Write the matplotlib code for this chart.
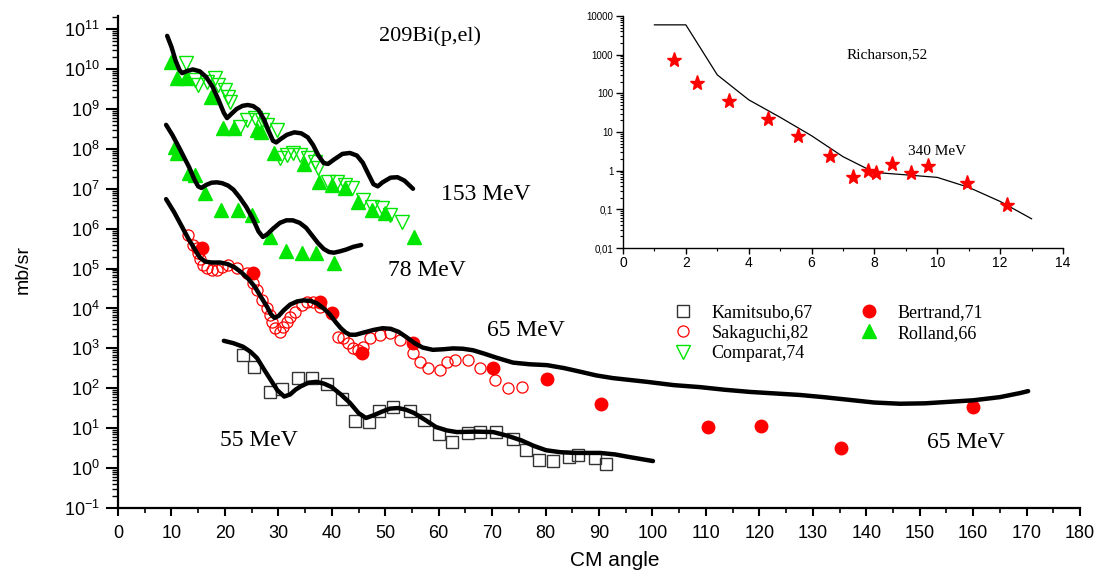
import matplotlib
matplotlib.use("Agg")
import matplotlib.pyplot as plt
from matplotlib.ticker import LogLocator, MultipleLocator, NullFormatter, FixedLocator, FixedFormatter

# ---- main plot data (CM angle in deg, cross section mb/sr) ----
# 153 MeV
curve153_x = [9.2, 10.0, 10.8, 11.5, 12.0, 12.8, 14.0, 15.3, 16.5, 17.7, 18.8, 19.8, 20.4, 21.2, 22.2,
              23.3, 24.3, 25.3, 26.3, 27.3, 28.3, 29.0, 29.6, 30.4, 31.6, 33.0, 34.3, 35.5, 36.5, 37.5,
              38.5, 39.3, 40.5, 42.0, 43.4, 44.7, 45.8, 46.8, 47.8, 48.6, 49.5, 51.0, 52.3, 53.6, 55.2]
curve153_y = [6.8e10, 3.6e10, 1.6e10, 9.5e9, 7.9e9, 8.8e9, 9.8e9, 8.8e9, 6.3e9, 3.6e9, 1.7e9, 8.0e8,
              5.9e8, 7.5e8, 1.0e9, 1.2e9, 1.26e9, 1.18e9, 9.5e8, 5.5e8, 2.6e8, 1.6e8, 1.45e8, 1.75e8,
              2.25e8, 2.6e8, 2.45e8, 1.95e8, 1.25e8, 6.8e7, 4.4e7, 4.2e7, 5.5e7, 7.5e7, 7.9e7, 6.8e7,
              4.5e7, 2.4e7, 1.3e7, 1.15e7, 1.45e7, 1.9e7, 1.95e7, 1.6e7, 1.0e7]
comparat_x = [12.7, 14.4, 15.0, 16.6, 18.2, 18.7, 20.0, 20.6, 21.0, 22.8, 24.1, 25.6, 26.9, 27.9, 29.8,
              30.3, 31.6, 32.7, 34.1, 35.6, 36.9, 37.4, 39.3, 41.0, 42.5, 43.8, 45.8, 47.5, 49.4, 50.9, 53.1]
comparat_y = [1.4e10, 5.4e9, 4.0e9, 4.8e9, 6.0e9, 4.0e9, 3.0e9, 2.0e9, 1.5e9, 3.5e8, 5.2e8, 5.9e8, 5.2e8,
              4.0e8, 3.0e8, 5.9e7, 7.1e7, 7.9e7, 7.1e7, 5.9e7, 4.7e7, 3.3e7, 1.5e7, 1.5e7, 1.26e7, 1.05e7,
              5.2e6, 3.5e6, 3.3e6, 2.2e6, 1.5e6]
rolland153_x = [9.9, 11.0, 12.7, 17.4, 19.7, 21.7, 26.0, 26.8, 29.2, 34.8, 37.6, 40.0, 42.5, 44.9, 47.6, 49.9, 55.3]
rolland153_y = [1.5e10, 5.9e9, 5.9e9, 2.0e9, 3.3e8, 3.3e8, 3.0e8, 2.6e8, 8.1e7, 4.2e7, 1.5e7, 1.26e7, 1.05e7,
                4.7e6, 3.0e6, 2.5e6, 6.2e5]

# 78 MeV
curve78_x = [9.0, 10.2, 11.4, 12.4, 13.3, 14.3, 15.0, 15.6, 16.5, 17.5, 18.5, 19.5, 20.6, 21.6, 22.8,
             24.0, 25.2, 26.3, 27.1, 27.9, 29.0, 30.3, 31.5, 32.7, 34.0, 35.2, 36.3, 37.4, 38.5, 39.5,
             40.4, 41.5, 42.7, 44.0, 45.5]
curve78_y = [4.0e8, 2.2e8, 1.1e8, 6.0e7, 3.5e7, 1.7e7, 1.15e7, 1.05e7, 1.25e7, 1.42e7, 1.45e7, 1.38e7,
             1.2e7, 9.5e6, 6.0e6, 3.5e6, 1.8e6, 8.5e5, 6.2e5, 7.2e5, 1.0e6, 1.4e6, 1.62e6, 1.62e6, 1.4e6,
             1.05e6, 6.8e5, 4.4e5, 3.1e5, 2.6e5, 2.5e5, 2.7e5, 3.0e5, 3.5e5, 3.9e5]
rolland78_x = [10.7, 11.0, 13.3, 14.4, 16.3, 19.3, 22.4, 25.1, 28.4, 31.4, 34.4, 37.1, 40.5]
rolland78_y = [1.1e8, 7.9e7, 2.5e7, 2.2e7, 7.8e6, 3.0e6, 3.0e6, 2.2e6, 6.2e5, 2.8e5, 2.5e5, 2.5e5, 1.4e5]

# 65 MeV
curve65_x = [9.0, 10.5, 12.0, 13.2, 14.4, 15.3, 16.3, 17.5, 19.1, 20.5, 21.8, 23.0, 24.4, 25.6, 26.8,
             27.9, 28.6, 29.3, 30.1, 31.0, 32.2, 33.5, 34.7, 36.0, 37.2, 38.5, 39.7, 40.7, 41.7, 42.6,
             43.4, 44.5, 46.0, 47.8, 49.5, 51.0, 52.5, 54.0, 55.5, 57.0, 58.9, 60.8, 62.7, 64.5, 66.4,
             68.5, 70.9, 73.9, 77.0, 80.3, 83.5, 86.5, 89.5, 92.6, 99.0, 104.0, 108.9, 113.5, 118.3,
             127.6, 132.0, 137.0, 141.5, 146.3, 151.0, 155.7, 160.0, 165.0, 168.8, 170.3]
curve65_y = [5.5e6, 2.6e6, 1.1e6, 5.5e5, 3.0e5, 1.9e5, 1.5e5, 1.42e5, 1.42e5, 1.3e5, 1.08e5, 8.2e4,
             5.5e4, 3.5e4, 1.9e4, 1.1e4, 7.2e3, 5.8e3, 6.6e3, 9.0e3, 1.25e4, 1.5e4, 1.6e4, 1.55e4,
             1.35e4, 1.0e4, 7.0e3, 4.6e3, 3.2e3, 2.5e3, 2.2e3, 2.2e3, 2.5e3, 2.9e3, 3.2e3, 3.1e3, 2.6e3,
             1.9e3, 1.35e3, 1.05e3, 920, 950, 1.0e3, 980, 900, 740, 580, 440, 400, 380, 320, 260, 210,
             180, 145, 120, 107, 92, 81, 68, 60, 51, 44, 41, 42, 46, 50, 60, 76, 85]
sakaguchi_x = [13.1, 14.0, 14.8, 15.0, 15.3, 15.9, 16.7, 17.6, 18.5, 19.5, 20.6, 22.3, 24.1, 25.3, 26.0,
               26.9, 27.9, 28.4, 28.8, 29.4, 30.3, 30.9, 31.6, 32.2, 33.1, 34.4, 35.4, 36.5, 37.8, 41.2,
               42.1, 43.0, 44.0, 44.9, 45.8, 47.2, 49.0, 50.9, 52.8, 55.2, 56.5, 58.0, 60.3, 61.6, 63.1,
               65.5, 67.7, 70.5, 73.0, 75.6]
sakaguchi_y = [6.9e5, 3.9e5, 3.3e5, 2.5e5, 1.7e5, 1.2e5, 1.05e5, 9.3e4, 9.3e4, 1.1e5, 1.2e5, 1.05e5, 7.8e4,
               4.4e4, 2.9e4, 1.6e4, 1.0e4, 6.9e3, 4.6e3, 3.2e3, 2.6e3, 3.5e3, 4.6e3, 6.2e3, 8.1e3, 1.2e4,
               1.45e4, 1.45e4, 1.1e4, 1.95e3, 1.8e3, 1.4e3, 1.0e3, 910, 1.1e3, 1.8e3, 2.2e3, 2.5e3, 1.6e3,
               760, 460, 320, 290, 460, 510, 510, 320, 160, 100, 107]
bertrand_x = [15.7, 25.3, 37.8, 40.0, 45.7, 55.2, 70.2, 80.3, 90.4, 110.4, 120.3, 135.3, 160.0]
bertrand_y = [3.3e5, 7.8e4, 1.45e4, 7.8e3, 760, 1.4e3, 320, 170, 41, 10.7, 11.5, 3.2, 34]

# 55 MeV
curve55_x = [19.8, 21.6, 23.4, 24.8, 26.0, 27.3, 28.6, 29.8, 31.1, 32.2, 33.2, 34.1, 35.6, 37.1, 38.6,
             40.0, 41.7, 43.4, 45.0, 46.4, 47.8, 49.4, 50.9, 52.4, 53.9, 55.4, 57.5, 59.5, 61.5, 63.4,
             66.8, 70.2, 72.8, 75.4, 77.8, 80.1, 82.8, 85.5, 90.2, 93.0, 95.6, 100.1]
curve55_y = [1550, 1350, 1100, 820, 575, 300, 160, 90, 62, 70, 92, 110, 138, 145, 130, 107, 70, 43, 24,
             18, 21, 26, 31, 32, 29, 24, 16, 10.7, 8.8, 8, 8.2, 8, 6.5, 5, 3.6, 2.8, 2.5, 2.4, 2.4, 2.2,
             1.9, 1.5]
kamitsubo_x = [23.4, 25.4, 28.4, 30.7, 33.7, 36.3, 39.1, 41.9, 44.3, 47.0, 48.8, 51.5, 54.6, 57.3, 60.1,
               62.5, 65.5, 67.7, 70.7, 73.9, 76.3, 78.8, 81.4, 84.4, 86.1, 89.3, 91.3]
kamitsubo_y = [680, 340, 81, 96, 180, 180, 129, 54, 15, 14, 27, 34, 27, 16, 7, 4.5, 7.5, 8, 8, 5.3, 2.8,
               1.6, 1.5, 1.9, 2.1, 1.8, 1.3]

# ---- inset data (340 MeV) ----
rich_line_x = [1, 2, 3, 4, 5, 6, 7, 8, 9, 10, 11, 12, 13]
rich_line_y = [5900, 5900, 300, 68, 24, 8, 2.3, 0.9, 0.78, 0.67, 0.37, 0.16, 0.057]
rich_x = [1.62, 2.35, 3.37, 4.61, 5.56, 6.6, 7.31, 7.78, 8.05, 8.57, 9.17, 9.69, 10.94, 12.21]
rich_y = [730, 190, 64, 22, 7.7, 2.4, 0.69, 0.96, 0.87, 1.5, 0.87, 1.3, 0.48, 0.126]
inset_yticks = [0.01, 0.1, 1, 10, 100, 1000, 10000]
inset_ylabels = ["0,01", "0,1", "1", "10", "100", "1000", "10000"]

plt.rcParams['font.family'] = ['Liberation Sans', 'DejaVu Sans']
plt.rcParams['mathtext.default'] = 'regular'
plt.rcParams['axes.unicode_minus'] = False

W, H = 1100, 579
fig = plt.figure(figsize=(W / 100, H / 100), dpi=100)


def fx(px):
    return px / W


def fy(py):
    return 1 - py / H


green = '#00e600'
red = '#ff0000'

ax = fig.add_axes([fx(118), fy(508), fx(1080) - fx(118), fy(16) - fy(508)])
ax.set_yscale('log')
ax.set_xlim(0, 180)
ax.set_ylim(1e-1, 10 ** 11.33)
for s in ['top', 'right']:
    ax.spines[s].set_visible(False)
for s in ['left', 'bottom']:
    ax.spines[s].set_linewidth(1.6)

# data points
ax.plot(kamitsubo_x, kamitsubo_y, 's', ms=8, mfc='none', mec='#333333', mew=1.0, label='Kamitsubo,67')
ax.plot(sakaguchi_x, sakaguchi_y, 'o', ms=8, mfc='none', mec=red, mew=0.9, label='Sakaguchi,82')
ax.plot(comparat_x, comparat_y, 'v', ms=10, mfc='none', mec=green, mew=1.0, label='Comparat,74')
ax.plot(bertrand_x, bertrand_y, 'o', ms=9, mfc=red, mec=red, label='Bertrand,71')
ax.plot(rolland153_x + rolland78_x, rolland153_y + rolland78_y, '^', ms=10, mfc=green, mec=green,
        label='Rolland,66')

# theory curves
for cx, cy in [(curve153_x, curve153_y), (curve78_x, curve78_y), (curve65_x, curve65_y), (curve55_x, curve55_y)]:
    ax.plot(cx, cy, '-', color='black', lw=3.2, solid_joinstyle='round', solid_capstyle='round', zorder=3)

ax.xaxis.set_major_locator(MultipleLocator(10))
ax.xaxis.set_minor_locator(MultipleLocator(5))
ax.yaxis.set_major_locator(LogLocator(base=10, numticks=20))
ax.yaxis.set_minor_locator(LogLocator(base=10, subs=range(2, 10), numticks=20))
ax.yaxis.set_minor_formatter(NullFormatter())
ax.tick_params(axis='y', which='major', direction='out', length=9, width=1.5, labelsize=13, pad=4)
ax.tick_params(axis='y', which='minor', direction='out', length=4, width=1.0)
ax.tick_params(axis='x', which='major', direction='out', length=6, width=1.5, labelsize=13, pad=6)
ax.tick_params(axis='x', which='minor', direction='out', length=3.5, width=1.2)
for lab in ax.get_xticklabels():
    lab.set_family(['Liberation Sans Narrow', 'Liberation Sans', 'DejaVu Sans'])

fig.text(fx(615), fy(561), 'CM angle', ha='center', va='center', fontsize=15)
fig.text(fx(23), fy(270), 'mb/sr', ha='center', va='center', rotation=90, fontsize=14)

serif = ['Liberation Serif', 'DejaVu Serif']
fig.text(fx(430), fy(36), '209Bi(p,el)', ha='center', va='center', fontsize=16, family=serif)
fig.text(fx(486), fy(195), '153 MeV', ha='center', va='center', fontsize=17, family=serif)
fig.text(fx(427), fy(270), '78 MeV', ha='center', va='center', fontsize=17, family=serif)
fig.text(fx(526), fy(330), '65 MeV', ha='center', va='center', fontsize=17, family=serif)
fig.text(fx(259), fy(440), '55 MeV', ha='center', va='center', fontsize=17, family=serif)
fig.text(fx(966), fy(443), '65 MeV', ha='center', va='center', fontsize=17, family=serif)

handles, labels = ax.get_legend_handles_labels()
leg = fig.legend(handles, labels, loc='upper left', bbox_to_anchor=(fx(672), fy(304)), ncol=2,
                 frameon=False, handlelength=1.2, handletextpad=1.0, columnspacing=2.5,
                 labelspacing=0.2, borderpad=0, borderaxespad=0, prop={'family': serif, 'size': 13})

# ---- inset ----
ins = fig.add_axes([fx(623), fy(248), fx(1063) - fx(623), fy(16) - fy(248)])
ins.set_yscale('log')
ins.set_xlim(0, 14)
ins.set_ylim(0.01, 10000)
for s in ['top', 'right']:
    ins.spines[s].set_visible(False)
for s in ['left', 'bottom']:
    ins.spines[s].set_linewidth(1.0)
ins.plot(rich_line_x, rich_line_y, '-', color='black', lw=0.9)
ins.plot(rich_x, rich_y, '*', ms=11, color=red, mec=red)
ins.xaxis.set_major_locator(MultipleLocator(2))
ins.xaxis.set_minor_locator(MultipleLocator(1))
ins.yaxis.set_major_locator(FixedLocator(inset_yticks))
ins.yaxis.set_major_formatter(FixedFormatter(inset_ylabels))
ins.yaxis.set_minor_locator(LogLocator(base=10, subs=range(2, 10), numticks=20))
ins.yaxis.set_minor_formatter(NullFormatter())
ins.tick_params(axis='y', which='major', direction='out', length=5, width=1.0, labelsize=7, pad=2)
ins.tick_params(axis='y', which='minor', direction='out', length=2.5, width=0.8)
ins.tick_params(axis='x', which='major', direction='out', length=4, width=1.0, labelsize=10, pad=2)
ins.tick_params(axis='x', which='minor', direction='out', length=2.5, width=0.8)
ins.text(8.4, 1000, 'Richarson,52', ha='center', va='center', fontsize=11, family=serif)
ins.text(10.0, 3.2, '340 MeV', ha='center', va='center', fontsize=11, family=serif)

fig.savefig('out.png', dpi=100)
